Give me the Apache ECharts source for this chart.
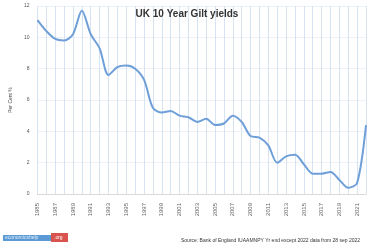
<!DOCTYPE html>
<html><head><meta charset="utf-8">
<script src="https://cdn.jsdelivr.net/npm/echarts@6/dist/echarts.min.js"></script>
<style>html,body{margin:0;padding:0;background:#fff}#c{width:374px;height:248px}</style>
</head><body><div id="c"></div>
<script>
var years = ['1985','1986','1987','1988','1989','1990','1991','1992','1993','1994','1995','1996','1997','1998','1999','2000','2001','2002','2003','2004','2005','2006','2007','2008','2009','2010','2011','2012','2013','2014','2015','2016','2017','2018','2019','2020','2021','2022'];
var yields = [11.1,10.4,9.9,9.8,10.2,11.7,10.2,9.3,7.6,8.1,8.2,8.0,7.3,5.5,5.2,5.3,5.0,4.9,4.6,4.8,4.4,4.5,5.0,4.6,3.7,3.6,3.1,2.0,2.4,2.5,1.9,1.3,1.3,1.4,0.9,0.4,0.7,4.4];
var yTicks = [0,2,4,6,8,10,12];
var chart = echarts.init(document.getElementById('c'));
chart.setOption({
  animation:false,
  title:{text:'UK 10 Year Gilt yields',left:'center',top:4,textStyle:{fontSize:10,fontWeight:'bold',color:'#333',fontFamily:'Liberation Sans'}},
  grid:{left:31,right:8,top:6,bottom:54},
  xAxis:{type:'category',data:years,boundaryGap:false,
    axisLine:{lineStyle:{color:'#d9d9d9'}},axisTick:{show:false},
    axisLabel:{rotate:90,interval:1,fontSize:6,color:'#666',margin:9},
    splitLine:{show:true,interval:0,lineStyle:{color:'#d6e3f3',width:1}}},
  yAxis:{type:'value',min:0,max:12,interval:2,name:'Per Cent %',nameLocation:'middle',nameGap:18,
    nameTextStyle:{fontSize:5,color:'#444'},
    axisLine:{show:false},axisTick:{show:false},
    axisLabel:{fontSize:5,color:'#555',formatter:function(v){return yTicks.indexOf(v)>=0?v:'';}},
    splitLine:{lineStyle:{color:'#eef2f8'}}},
  series:[{type:'line',data:yields,smooth:0.3,symbol:'none',lineStyle:{color:'#6f9fd8',width:2}}],
  graphic:[
    {type:'rect',left:3,top:235,shape:{width:48,height:6},style:{fill:'#5b9bd5'}},
    {type:'text',left:5,top:235.5,style:{text:'economicshelp',fontSize:5,fill:'#dfeaf7'}},
    {type:'rect',left:51,top:233,shape:{width:17,height:9},style:{fill:'#d9534f'}},
    {type:'text',left:54,top:235,style:{text:'.org',fontSize:5,fill:'#fff'}},
    {type:'text',right:14,top:238,style:{text:'Source: Bank of England IUAAMNPY Yr end except 2022 data from 28 sep 2022',fontSize:5,fill:'#333'}}
  ]
});
</script></body></html>
